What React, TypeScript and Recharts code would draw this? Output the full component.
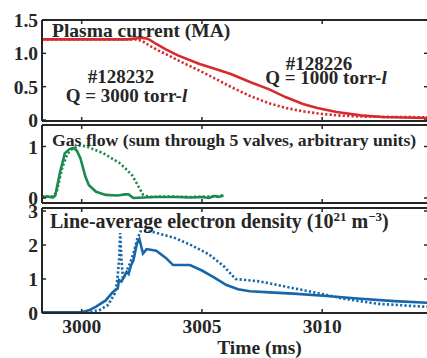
import React from "react";
import { LineChart, Line, XAxis, YAxis } from "recharts";

const FONT = '"Liberation Serif", "Times New Roman", Times, serif';
const INK = "#262626";
const RED = "#d62a2e";
const GREEN = "#1c8a4c";
const BLUE = "#1666a9";

const W = 430;
const H = 358;

const timeDomain: [number, number] = [2998.35, 3014.4];
const timeTicks = [3000, 3005, 3010];
const timeTickLabels = ["3000", "3005", "3010"];

const currentTicks = [0, 0.5, 1, 1.5];
const currentTickLabels = ["0", "0.5", "1.0", "1.5"];
const gasTicks = [0, 1];
const gasTickLabels = ["0", "1"];
const densityTicks = [0, 1, 2, 3];
const densityTickLabels = ["0", "1", "2", "3"];

// Plasma current (MA) — shot #128226, Q = 1000 torr-l (solid)
const current128226: [number, number][] = [
  [2998.35, 1.21], [3001.9, 1.21], [3002.2, 1.22], [3002.45, 1.235], [3002.75, 1.22],
  [3003.1, 1.14], [3003.5, 1.06], [3004.0, 0.97], [3004.9, 0.84], [3005.6, 0.76],
  [3006.2, 0.69], [3007.0, 0.57], [3007.8, 0.46], [3008.5, 0.34], [3009.2, 0.24],
  [3009.8, 0.18], [3010.6, 0.12], [3011.6, 0.07], [3012.5, 0.045], [3014.4, 0.03],
];
// Plasma current (MA) — shot #128232, Q = 3000 torr-l (dotted)
const current128232: [number, number][] = [
  [2998.35, 1.21], [3002.2, 1.21], [3002.5, 1.19], [3002.8, 1.12], [3003.2, 1.04],
  [3003.6, 0.97], [3004.2, 0.86], [3004.9, 0.74], [3005.6, 0.61], [3006.3, 0.48],
  [3007.0, 0.36], [3007.8, 0.25], [3008.5, 0.18], [3009.2, 0.13], [3010.0, 0.09],
  [3010.8, 0.065], [3011.8, 0.05], [3014.4, 0.04],
];

// Gas flow (arbitrary units)
const gas128226: [number, number][] = [
  [2998.35, 0.02], [2998.6, 0.03], [2998.8, 0.01], [2998.9, 0.05], [2999.1, 0.5],
  [2999.3, 0.87], [2999.5, 0.95], [2999.65, 0.97], [2999.8, 0.92], [2999.95, 0.77],
  [3000.15, 0.42], [3000.3, 0.25], [3000.6, 0.12], [3001.0, 0.06], [3001.5, 0.05],
  [3001.8, 0.07], [3001.95, 0.07], [3002.15, 0.0], [3002.6, 0.01], [3003.0, 0.02],
  [3003.5, 0.02], [3004.0, 0.02], [3004.5, 0.01], [3005.0, 0.02], [3005.3, 0.0],
  [3005.5, 0.04], [3005.7, 0.02], [3005.9, 0.05],
];
const gas128232: [number, number][] = [
  [2998.35, 0.03], [2998.8, 0.03], [2998.95, 0.1], [2999.2, 0.6], [2999.4, 0.85],
  [2999.6, 0.95], [2999.93, 1.02], [3000.2, 1.0], [3000.9, 0.87], [3001.6, 0.67],
  [3001.87, 0.55], [3002.1, 0.44], [3002.56, 0.06], [3002.8, 0.02], [3003.5, 0.03],
  [3004.5, 0.02], [3005.5, 0.03], [3005.9, 0.05],
];

// Line-average electron density (1e21 m^-3)
const density128226: [number, number][] = [
  [2998.35, 0.02], [3000.0, 0.02], [3000.3, 0.08], [3000.6, 0.19], [3001.0, 0.37],
  [3001.3, 0.62], [3001.45, 0.7], [3001.5, 0.72], [3001.55, 0.97], [3001.65, 0.92],
  [3001.75, 1.05], [3001.87, 1.21], [3001.95, 1.15], [3002.05, 1.4], [3002.15, 1.55],
  [3002.3, 2.05], [3002.4, 2.17], [3002.55, 1.75], [3002.7, 1.88], [3003.1, 1.83],
  [3003.5, 1.62], [3003.8, 1.41], [3004.5, 1.41], [3005.0, 1.25], [3005.5, 1.05],
  [3006.0, 0.83], [3006.5, 0.7], [3007.0, 0.64], [3008.0, 0.6], [3008.8, 0.57],
  [3010.2, 0.5], [3011.6, 0.42], [3013.0, 0.35], [3014.4, 0.3],
];
const density128232: [number, number][] = [
  [2998.35, 0.02], [3000.3, 0.02], [3000.75, 0.09], [3001.1, 0.24], [3001.38, 0.58],
  [3001.48, 0.97], [3001.56, 1.6], [3001.6, 2.35], [3001.66, 1.5], [3001.72, 1.0],
  [3001.85, 1.2], [3002.0, 1.45], [3002.15, 1.75], [3002.3, 2.15], [3002.45, 2.4],
  [3002.7, 2.42], [3003.2, 2.34], [3003.9, 2.2], [3004.6, 1.98], [3005.3, 1.72],
  [3005.9, 1.38], [3006.4, 1.0], [3007.4, 0.93], [3008.8, 0.73], [3010.2, 0.53],
  [3010.9, 0.42], [3012.3, 0.27], [3014.4, 0.18],
];

const rows = (pairs: [number, number][]) => pairs.map(([t, v]) => ({ t, v }));

const tickText = { fontFamily: FONT, fontWeight: 700, fontSize: 19.5, fill: INK };
const frame = { stroke: INK, strokeWidth: 2 };

const leftTick = (values: number[], labels: string[]) => (p: any) => {
  const i = values.indexOf(p.payload.value);
  return (
    <g>
      <line x1={p.x} x2={p.x + 4} y1={p.y} y2={p.y} stroke={INK} strokeWidth={1.5} />
      <text x={p.x - 4} y={p.y} dy="0.36em" textAnchor="end" {...tickText}>
        {labels[i]}
      </text>
    </g>
  );
};
const rightTick = (p: any) => (
  <line x1={p.x} x2={p.x - 4} y1={p.y} y2={p.y} stroke={INK} strokeWidth={1.5} />
);
const topTick = (p: any) => (
  <line x1={p.x} x2={p.x} y1={p.y} y2={p.y + 4} stroke={INK} strokeWidth={1.5} />
);
const bottomTick = (withLabel: boolean) => (p: any) => {
  const i = timeTicks.indexOf(p.payload.value);
  return (
    <g>
      <line x1={p.x} x2={p.x} y1={p.y} y2={p.y - 4} stroke={INK} strokeWidth={1.5} />
      {withLabel && (
        <text x={p.x} y={p.y + 20} textAnchor="middle" {...tickText}>
          {timeTickLabels[i]}
        </text>
      )}
    </g>
  );
};

type PanelProps = {
  top: number;
  bottom: number;
  yDomain: [number, number];
  yTicks: number[];
  yLabels: string[];
  timeLabels: boolean;
  solid: [number, number][];
  dotted: [number, number][];
  color: string;
};

const LEFT_W = 40;

function Panel({ top, bottom, yDomain, yTicks, yLabels, timeLabels, solid, dotted, color }: PanelProps) {
  return (
    <div style={{ position: "absolute", left: 0, top: 0 }}>
      <LineChart width={W} height={H}
        margin={{ top: top - 1, bottom: H - bottom - 1, left: 42 - LEFT_W, right: W - 428 - 1 }}>
        <XAxis xAxisId="b" type="number" dataKey="t" domain={timeDomain} allowDataOverflow
          ticks={timeTicks} interval={0} orientation="bottom" height={1} tickSize={0} tickMargin={0}
          axisLine={frame} tickLine={false} tick={bottomTick(timeLabels)} />
        <XAxis xAxisId="t" type="number" dataKey="t" domain={timeDomain} allowDataOverflow
          ticks={timeTicks} interval={0} orientation="top" height={1} tickSize={0} tickMargin={0}
          axisLine={frame} tickLine={false} tick={topTick} />
        <YAxis yAxisId="l" type="number" domain={yDomain} allowDataOverflow ticks={yTicks}
          interval={0} orientation="left" width={LEFT_W} tickSize={0} tickMargin={0}
          axisLine={frame} tickLine={false} tick={leftTick(yTicks, yLabels)} />
        <YAxis yAxisId="r" type="number" domain={yDomain} allowDataOverflow ticks={yTicks}
          interval={0} orientation="right" width={1} tickSize={0} tickMargin={0}
          axisLine={frame} tickLine={false} tick={rightTick} />
        <Line xAxisId="b" yAxisId="l" data={rows(dotted)} dataKey="v" type="linear"
          stroke={color} strokeWidth={2.6} strokeDasharray="2.2 2.2" dot={false}
          activeDot={false} isAnimationActive={false} />
        <Line xAxisId="b" yAxisId="l" data={rows(solid)} dataKey="v" type="linear"
          stroke={color} strokeWidth={2.6} dot={false} activeDot={false}
          isAnimationActive={false} />
      </LineChart>
    </div>
  );
}

const labelText = { fontFamily: FONT, fontWeight: 700, fill: INK };

export default function App() {
  return (
    <div style={{ position: "absolute", left: 0, top: 0, width: 427, height: 358, overflow: "hidden", background: "#fff" }}>
      <Panel top={20} bottom={121} yDomain={[-0.015, 1.5]} yTicks={currentTicks}
        yLabels={currentTickLabels} timeLabels={false} solid={current128226}
        dotted={current128232} color={RED} />
      <Panel top={125} bottom={203} yDomain={[-0.097, 1.417]} yTicks={gasTicks}
        yLabels={gasTickLabels} timeLabels={false} solid={gas128226}
        dotted={gas128232} color={GREEN} />
      <Panel top={208} bottom={313} yDomain={[0, 3.088]} yTicks={densityTicks}
        yLabels={densityTickLabels} timeLabels={true} solid={density128226}
        dotted={density128232} color={BLUE} />
      <svg width={427} height={358} style={{ position: "absolute", left: 0, top: 0, pointerEvents: "none" }}>
        <text x={52} y={36.5} fontSize={19.5} {...labelText}>Plasma current (MA)</text>
        <text x={52} y={145.5} fontSize={17.7} {...labelText}>
          Gas flow (sum through 5 valves, arbitrary units)
        </text>
        <text x={50} y={228} fontSize={20} {...labelText}>
          Line-average electron density (10
          <tspan dy={-7} fontSize={13}>21</tspan>
          <tspan dy={7}> m</tspan>
          <tspan dy={-7} fontSize={13}>−3</tspan>
          <tspan dy={7}>)</tspan>
        </text>
        <text x={121} y={83} fontSize={19} textAnchor="middle" {...labelText}>#128232</text>
        <text x={126.5} y={101.5} fontSize={19} textAnchor="middle" {...labelText}>
          Q = 3000 torr-<tspan fontStyle="italic">l</tspan>
        </text>
        <text x={319} y={69.5} fontSize={19} textAnchor="middle" {...labelText}>#128226</text>
        <text x={326} y={84} fontSize={19} textAnchor="middle" {...labelText}>
          Q = 1000 torr-<tspan fontStyle="italic">l</tspan>
        </text>
        <text x={259.5} y={354} fontSize={19.5} textAnchor="middle" {...labelText}>Time (ms)</text>
      </svg>
    </div>
  );
}
